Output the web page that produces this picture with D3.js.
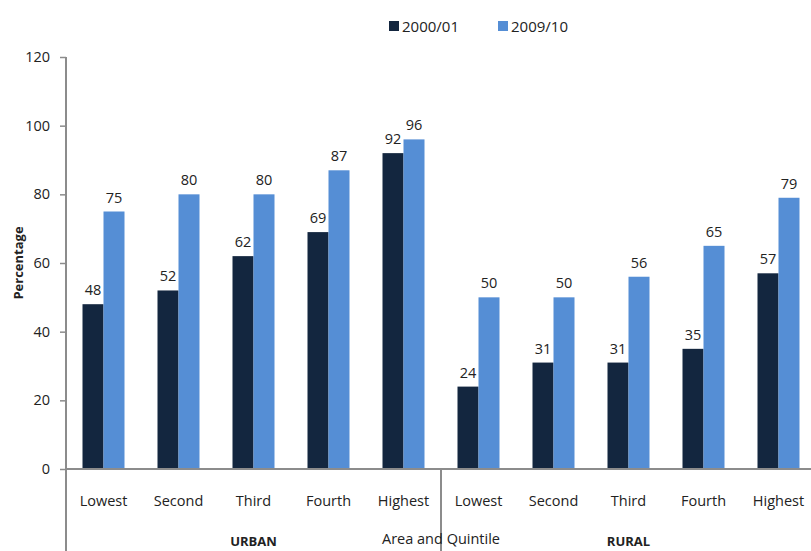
<!DOCTYPE html>
<html>
<head>
<meta charset="utf-8">
<script src="https://cdn.jsdelivr.net/npm/d3@7"></script>
<style>
  body { margin: 0; background: #fff; }
  svg { display: block; font-family: "Open Sans", "Liberation Sans", sans-serif; }
</style>
</head>
<body>
<svg id="chart" width="811" height="551"></svg>
<script>
// data
const quintiles = ["Lowest", "Second", "Third", "Fourth", "Highest", "Lowest", "Second", "Third", "Fourth", "Highest"];
const areas = ["URBAN", "RURAL"];
const seriesNames = ["2000/01", "2009/10"];
const values2000 = [48, 52, 62, 69, 92, 24, 31, 31, 35, 57];
const values2009 = [75, 80, 80, 87, 96, 50, 50, 56, 65, 79];
const yTicks = [0, 20, 40, 60, 80, 100, 120];

let dark = "#13263f";
let light = "#558ed5";
let axisGray = "#8c8c8c";
let textDark = "#222222";

const svg = d3.select("#chart");
const margin = {top: 57, left: 66};
const plotWidth = 750;
const plotHeight = 412;

const g = svg.append("g")
    .attr("transform", `translate(${margin.left}, ${margin.top})`);

const keys = quintiles.map((q, i) => i);

//scales
const xScale = d3.scaleBand()
    .domain(keys)
    .range([0, plotWidth])
    .paddingInner(0.44)
    .paddingOuter(0.22);

const xSub = d3.scaleBand()
    .domain(seriesNames)
    .range([0, xScale.bandwidth()]);

const yScale = d3.scaleLinear()
    .domain([0, 120])
    .range([plotHeight, 0]);

const step = xScale.step();

//y axis
const yAxis = d3.axisLeft(yScale)
    .tickValues(yTicks)
    .tickSize(6)
    .tickPadding(10);

const yAxisG = g.append("g").call(yAxis);
yAxisG.select(".domain").remove();
yAxisG.selectAll(".tick line").style("stroke", axisGray).style("stroke-width", 1.5);
yAxisG.selectAll(".tick text")
    .style("fill", textDark)
    .style("font-size", "14.5px")
    .style("font-family", "'Open Sans', sans-serif");

g.append("line")
    .attr("x1", 0).attr("x2", 0)
    .attr("y1", 0).attr("y2", plotHeight + 90)
    .style("stroke", axisGray).style("stroke-width", 2);

//bars
const rows = keys.map(i => ({i, v: [values2000[i], values2009[i]]}));

const groups = g.selectAll(".grp")
    .data(rows)
    .enter().append("g")
    .attr("transform", d => `translate(${xScale(d.i)}, 0)`);

groups.selectAll("rect")
    .data(d => d.v.map((v, k) => ({v, s: seriesNames[k]})))
    .enter().append("rect")
    .attr("x", d => xSub(d.s))
    .attr("y", d => yScale(d.v))
    .attr("width", xSub.bandwidth())
    .attr("height", d => plotHeight - yScale(d.v))
    .style("fill", d => d.s === seriesNames[0] ? dark : light);

groups.selectAll(".val")
    .data(d => d.v.map((v, k) => ({v, s: seriesNames[k]})))
    .enter().append("text")
    .attr("class", "val")
    .attr("x", d => xSub(d.s) + xSub.bandwidth() / 2)
    .attr("y", d => yScale(d.v) - 9)
    .attr("text-anchor", "middle")
    .style("font-size", "14.5px")
    .style("fill", textDark)
    .text(d => d.v);

//x axis
g.append("line")
    .attr("x1", 0).attr("x2", plotWidth)
    .attr("y1", plotHeight).attr("y2", plotHeight)
    .style("stroke", axisGray).style("stroke-width", 2);

g.append("line")
    .attr("x1", step * 5).attr("x2", step * 5)
    .attr("y1", plotHeight).attr("y2", plotHeight + 90)
    .style("stroke", axisGray).style("stroke-width", 2);

g.selectAll(".cat")
    .data(rows)
    .enter().append("text")
    .attr("x", d => xScale(d.i) + xScale.bandwidth() / 2)
    .attr("y", plotHeight + 37)
    .attr("text-anchor", "middle")
    .style("font-size", "14.5px")
    .style("fill", textDark)
    .text(d => quintiles[d.i]);

g.selectAll(".area")
    .data(areas)
    .enter().append("text")
    .attr("x", (d, i) => step * 5 * i + step * 2.5)
    .attr("y", plotHeight + 77)
    .attr("text-anchor", "middle")
    .style("font-size", "13px")
    .style("font-weight", "bold")
    .style("fill", textDark)
    .text(d => d);

g.append("text")
    .attr("x", step * 5)
    .attr("y", plotHeight + 75)
    .attr("text-anchor", "middle")
    .style("font-size", "14.5px")
    .style("fill", textDark)
    .text("Area and Quintile");

//y title
svg.append("text")
    .attr("transform", `translate(23, ${margin.top + plotHeight / 2}) rotate(-90)`)
    .attr("text-anchor", "middle")
    .style("font-size", "13px")
    .style("font-weight", "bold")
    .style("fill", textDark)
    .text("Percentage");

//legend
const legend = svg.append("g").attr("transform", "translate(389, 19)");
const legendItems = legend.selectAll("g")
    .data(seriesNames)
    .enter().append("g")
    .attr("transform", (d, i) => `translate(${i * 109}, 0)`);

legendItems.append("rect")
    .attr("width", 10).attr("height", 10).attr("y", 2)
    .style("fill", (d, i) => i === 0 ? dark : light);

legendItems.append("text")
    .attr("x", 13).attr("y", 12.5)
    .style("font-size", "15px")
    .style("fill", textDark)
    .text(d => d);
</script>
</body>
</html>
